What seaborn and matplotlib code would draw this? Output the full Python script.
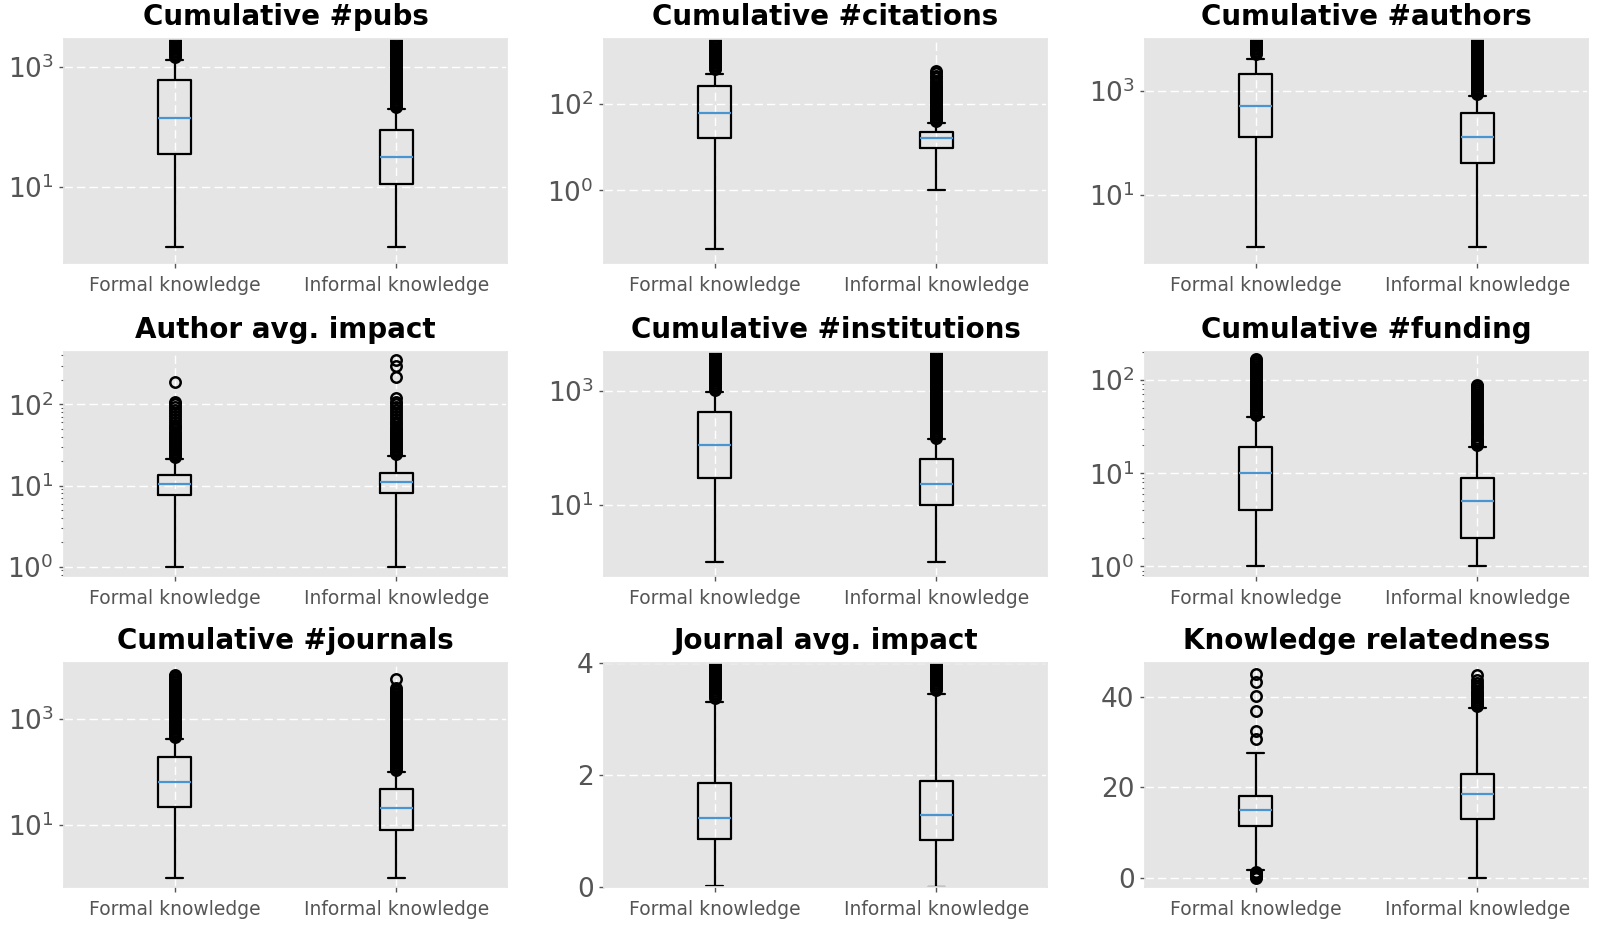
import pandas as pd
import matplotlib
matplotlib.use("Agg")
import matplotlib.pyplot as plt
import matplotlib.ticker as mticker
import seaborn as sns

groups = ["Formal knowledge", "Informal knowledge"]

# box stats: [lower whisker, q1, median, q3, upper whisker]
# fliers: the circles above / below the whiskers
pubs_formal = [1, 35, 138, 600, 1300]
pubs_formal_fliers = [1460, 1550, 1650, 1750, 1850, 1950, 2100, 2250, 2400, 2550, 2700, 2850, 3000]
pubs_informal = [1, 11, 31.6, 88, 200]
pubs_informal_fliers = [210, 225, 240, 255, 270, 290, 310, 330, 350, 375, 400, 430, 460, 490, 520,
                        560, 600, 640, 690, 740, 790, 850, 910, 970, 1040, 1110, 1190, 1270, 1360,
                        1460, 1560, 1670, 1790, 1910, 2050, 2190, 2350, 2510, 2690, 2880, 3100]

cit_formal = [0.044, 16, 61, 261, 500]
cit_formal_fliers = [640, 690, 740, 800, 860, 930, 1000, 1080, 1160, 1250, 1350, 1460, 1570, 1700,
                     1830, 1970, 2130, 2300, 2480, 2680, 2890, 3120]
cit_informal = [1, 9.5, 16, 22, 36]
cit_informal_fliers = [41, 44, 47, 50, 54, 58, 62, 66, 71, 76, 82, 88, 94, 101, 108, 116, 125, 134,
                       144, 155, 166, 178, 191, 205, 220, 240, 265, 300, 340, 390, 450, 520, 590]

auth_formal = [1, 130, 515, 2100, 4000]
auth_formal_fliers = [5100, 5450, 5850, 6250, 6700, 7150, 7650, 8200, 8800, 9400, 10100]
auth_informal = [1, 42, 127, 370, 800]
auth_informal_fliers = [870, 930, 1000, 1070, 1150, 1230, 1320, 1410, 1510, 1620, 1740, 1860, 2000,
                        2140, 2290, 2460, 2630, 2820, 3020, 3240, 3470, 3720, 3990, 4270, 4580,
                        4910, 5260, 5640, 6040, 6470, 6940, 7430, 7970, 8540, 9150, 9800, 10500]

aimp_formal = [1, 7.7, 10.4, 13.5, 21]
aimp_formal_fliers = [22.5, 23.5, 24.5, 25.5, 27, 28.5, 30, 31.5, 33, 35, 37, 39, 41, 43.5, 46,
                      49, 52, 56, 61, 66, 72, 78, 85, 92, 100, 108, 190]
aimp_informal = [1, 8.1, 11, 14.3, 23]
aimp_informal_fliers = [24.5, 25.5, 26.5, 28, 29.5, 31, 32.5, 34, 36, 38, 40, 42, 44.5, 47, 50, 53,
                        57, 61, 66, 72, 78, 85, 92, 100, 108, 118, 215, 295, 355]

inst_formal = [1, 30, 110, 430, 950]
inst_formal_fliers = [1040, 1110, 1190, 1270, 1360, 1460, 1560, 1670, 1790, 1910, 2050, 2190,
                      2350, 2510, 2690, 2880, 3080, 3300, 3530, 3780, 4040, 4330, 4630, 4960]
inst_informal = [1, 10, 23, 64, 140]
inst_informal_fliers = [150, 160, 171, 183, 196, 210, 225, 240, 257, 275, 294, 315, 337, 360, 386,
                        413, 442, 473, 506, 541, 579, 620, 663, 710, 760, 813, 870, 931, 996, 1070,
                        1140, 1220, 1310, 1400, 1500, 1600, 1710, 1830, 1960, 2100, 2250, 2400,
                        2570, 2750, 2950, 3150, 3370, 3610, 3860, 4130, 4420, 4730, 5060]

fund_formal = [1, 4, 10, 19, 40]
fund_formal_fliers = [42, 44, 46, 48, 50, 52.5, 55, 57.5, 60, 63, 66, 69, 72, 75.5, 79, 83, 87, 91,
                      95, 100, 105, 110, 116, 122, 128, 135, 142, 150, 158, 166, 170]
fund_informal = [1, 2, 5, 9, 19]
fund_informal_fliers = [20, 21, 22, 23, 24, 25.5, 27, 28.5, 30, 31.5, 33, 35, 37, 39, 41, 43, 45,
                        47.5, 50, 52.5, 55, 58, 61, 64, 67, 70.5, 74, 78, 82, 86, 88]

jour_formal = [1, 22, 65, 190, 420]
jour_formal_fliers = [450, 480, 515, 550, 590, 630, 675, 720, 770, 825, 880, 945, 1010, 1080, 1160,
                      1240, 1320, 1420, 1520, 1620, 1740, 1860, 1990, 2130, 2280, 2440, 2610,
                      2790, 2990, 3200, 3420, 3660, 3920, 4190, 4480, 4800, 5140, 5500, 5880,
                      6300, 6600]
jour_informal = [1, 8, 21, 48, 100]
jour_informal_fliers = [110, 118, 126, 135, 144, 154, 165, 177, 189, 202, 216, 231, 248, 265, 284,
                        303, 325, 347, 372, 398, 426, 455, 487, 521, 558, 597, 639, 683, 731, 782,
                        837, 896, 958, 1030, 1100, 1170, 1260, 1340, 1440, 1540, 1650, 1760, 1880,
                        2020, 2160, 2310, 2470, 2640, 2830, 3030, 3240, 3460, 3700, 5500]

jimp_formal = [0.02, 0.86, 1.24, 1.86, 3.3]
jimp_formal_fliers = [3.38, 3.41, 3.44, 3.47, 3.5, 3.53, 3.56, 3.59, 3.62, 3.65, 3.68, 3.71, 3.74,
                      3.77, 3.8, 3.83, 3.86, 3.89, 3.92, 3.95, 3.98, 4.01, 4.05]
jimp_informal = [0, 0.84, 1.28, 1.9, 3.45]
jimp_informal_fliers = [3.52, 3.55, 3.58, 3.61, 3.64, 3.67, 3.7, 3.73, 3.76, 3.79, 3.82, 3.85,
                        3.88, 3.91, 3.94, 3.97, 4.0, 4.05]

rel_formal = [1.75, 11.6, 15.1, 18.2, 27.6]
rel_formal_fliers = [0, 0.25, 0.5, 0.75, 1.0, 1.25, 1.5, 30.6, 32.4, 36.8, 40.2, 43.3, 44.9]
rel_informal = [0, 13.1, 18.5, 22.9, 37.5]
rel_informal_fliers = [38, 38.4, 38.8, 39.2, 39.6, 40, 40.4, 40.8, 41.3, 41.8, 42.4, 43, 43.6, 44.8]


def sample(stats, fliers):
    """Build a value list whose boxplot stats are exactly the ones read above."""
    lo, q1, med, q3, hi = stats
    low = sorted(f for f in fliers if f < q1)
    high = sorted(f for f in fliers if f > q3)
    m = max(len(low), len(high)) + 2
    below = low + [lo] + [q1] * (m - 1 - len(low))
    middle = [q1] * m + [med] * m + [q3]
    above = [q3] * (m - 1 - len(high)) + [hi] + high
    return below + middle + above


# title, formal, informal, y-limits, log?, major ticks, minor ticks on log axis
panels = [
    ("Cumulative #pubs", (pubs_formal, pubs_formal_fliers), (pubs_informal, pubs_informal_fliers),
     (0.54, 2900), True, [10, 1000], False),
    ("Cumulative #citations", (cit_formal, cit_formal_fliers), (cit_informal, cit_informal_fliers),
     (0.021, 3160), True, [1, 100], False),
    ("Cumulative #authors", (auth_formal, auth_formal_fliers), (auth_informal, auth_informal_fliers),
     (0.5, 9800), True, [10, 1000], False),
    ("Author avg. impact", (aimp_formal, aimp_formal_fliers), (aimp_informal, aimp_informal_fliers),
     (0.77, 440), True, [1, 10, 100], True),
    ("Cumulative #institutions", (inst_formal, inst_formal_fliers), (inst_informal, inst_informal_fliers),
     (0.56, 4800), True, [10, 1000], False),
    ("Cumulative #funding", (fund_formal, fund_formal_fliers), (fund_informal, fund_informal_fliers),
     (0.79, 200), True, [1, 10, 100], True),
    ("Cumulative #journals", (jour_formal, jour_formal_fliers), (jour_informal, jour_informal_fliers),
     (0.69, 11000), True, [10, 1000], False),
    ("Journal avg. impact", (jimp_formal, jimp_formal_fliers), (jimp_informal, jimp_informal_fliers),
     (0, 4), False, [0, 2, 4], False),
    ("Knowledge relatedness", (rel_formal, rel_formal_fliers), (rel_informal, rel_informal_fliers),
     (-1.9, 47.4), False, [0, 20, 40], False),
]

sns.set_theme(style="darkgrid", rc={
    "axes.facecolor": "#E5E5E5",
    "axes.edgecolor": "#E5E5E5",
    "grid.color": "white",
    "xtick.bottom": True,
    "ytick.left": True,
    "xtick.color": "#555555",
    "ytick.color": "#555555",
    "xtick.major.size": 3.5,
    "ytick.major.size": 3.5,
    "ytick.minor.size": 2,
    "xtick.major.width": 1,
    "ytick.major.width": 1,
    "ytick.minor.width": 0.8,
})
plt.rcParams["font.family"] = ["DejaVu Sans"]

W, H = 1603, 926
fig = plt.figure(figsize=(W / 100, H / 100), dpi=100, facecolor="white")
lefts = [64, 604, 1145]
tops = [39, 352, 663]
aw, ah = 443, 224

for k, (title, formal, informal, ylim, logy, majors, minors) in enumerate(panels):
    r, c = divmod(k, 3)
    ax = fig.add_axes([lefts[c] / W, (H - tops[r] - ah) / H, aw / W, ah / H])
    fv = sample(*formal)
    iv = sample(*informal)
    df = pd.DataFrame({"group": [groups[0]] * len(fv) + [groups[1]] * len(iv), "value": fv + iv})
    sns.boxplot(data=df, x="group", y="value", order=groups, ax=ax, width=0.15, fill=False,
                color="black", linewidth=1.6, whis=1.5, fliersize=7.5,
                medianprops=dict(color="#4a95cf", linewidth=1.6),
                flierprops=dict(marker="o", markerfacecolor="none", markeredgecolor="black",
                                markeredgewidth=1.8))
    if logy:
        ax.set_yscale("log")
        ax.yaxis.set_major_locator(mticker.FixedLocator(majors))
        ax.yaxis.set_major_formatter(mticker.LogFormatterSciNotation())
        if minors:
            ax.yaxis.set_minor_locator(mticker.LogLocator(subs=range(2, 10)))
        else:
            ax.yaxis.set_minor_locator(mticker.NullLocator())
        ax.yaxis.set_minor_formatter(mticker.NullFormatter())
    else:
        ax.set_yticks(majors)
    ax.set_ylim(*ylim)
    ax.set_xlim(-0.5, 1.5)
    ax.set_xlabel("")
    ax.set_ylabel("")
    ax.grid(True, which="major", axis="both", color="white", linestyle=(0, (6, 3)), linewidth=1)
    ax.tick_params(axis="x", labelsize=13.5, pad=6)
    ax.tick_params(axis="y", which="major", labelsize=19, pad=4)
    ax.set_title(title, fontsize=20, fontweight="bold", color="black", pad=10)

fig.savefig("out.png", dpi=100)
